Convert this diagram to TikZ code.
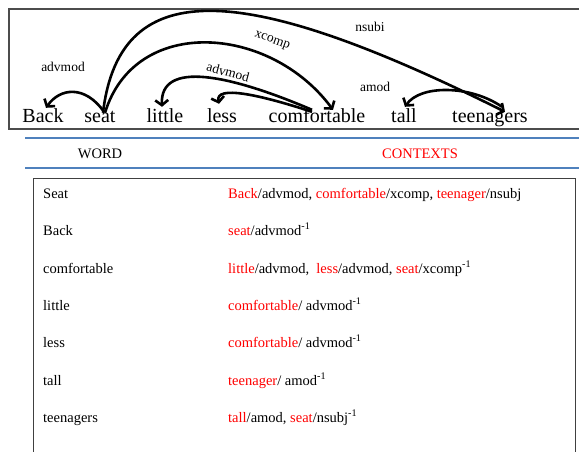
\documentclass[tikz,border=0pt]{standalone}
\usepackage{fontspec}
\setmainfont{Liberation Serif}
\usetikzlibrary{arrows.meta}
\definecolor{ctxred}{RGB}{255,0,0}
\definecolor{rulecol}{RGB}{79,129,189}
\newcommand{\cw}[1]{\textcolor{ctxred}{#1}}
\newcommand{\inv}{\textsuperscript{-1}}
\tikzset{
  word/.style={anchor=base, inner sep=0pt, text height=13pt, text depth=4pt, font=\fontsize{20}{24}\selectfont},
  rel/.style={inner sep=0pt, font=\fontsize{13.5}{16}\selectfont},
  dep/.style={line width=2.6pt, -{Straight Barb[length=5pt,width=13pt]}},
  cell/.style={anchor=base west, inner sep=0pt, font=\fontsize{14.5}{17}\selectfont},
}
\begin{document}
\begin{tikzpicture}[x=1pt,y=-1pt]
\useasboundingbox (0,0) rectangle (579,452);
\draw[black!70, line width=1.3pt] (9,9) rectangle (600,129);
\node[word] (Back) at (43,123) {Back};
\node[word] (seat) at (100,123) {seat};
\node[word] (little) at (165,123) {little};
\node[word] (less) at (222,123) {less};
\node[word] (comfortable) at (317,123) {comfortable};
\node[word] (tall) at (404,123) {tall};
\node[word] (teenagers) at (490,123) {teenagers};
\draw[dep] ([xshift=4pt,yshift=-2pt]seat.north) .. controls +(-19,-27) and +(14,-20) .. ([xshift=3pt,yshift=2pt]Back.north);
\draw[dep] ([xshift=5pt,yshift=-3pt]seat.north) .. controls +(30,-98) and +(-63,-85) .. ([xshift=16pt]comfortable.north);
\draw[dep] ([xshift=3pt,yshift=-3pt]seat.north) .. controls +(17,-143) and +(-255,-127) .. ([xshift=15pt,yshift=-2pt]teenagers.north);
\draw[dep] ([xshift=-5pt]comfortable.north) .. controls +(-82,-35) and +(-2,-47) .. ([xshift=-3pt,yshift=3pt]little.north);
\draw[dep] ([xshift=-5pt,yshift=-2pt]comfortable.north) .. controls +(-52,-17) and +(-4,-19) .. ([xshift=-3pt,yshift=6pt]less.north);
\draw[dep] ([xshift=12pt,yshift=3pt]teenagers.north) .. controls +(-32,-22) and +(15,-22) .. ([xshift=1pt,yshift=3pt]tall.north);
\node[rel] (lbBack) at (63,67) {advmod};
\node[rel, rotate=-20] (lbXcomp) at (272,41) {xcomp};
\node[rel, rotate=-15] (lbLittle) at (228,72) {advmod};
\node[rel] (lbNsubj) at (370,27) {nsubi};
\node[rel] (lbAmod) at (375,87) {amod};
\draw[rulecol, line width=1.4pt] (25,138) -- (579,138);
\draw[rulecol, line width=1.4pt] (25,168) -- (579,168);
\node[cell, anchor=base] (hWord) at (100,158) {WORD};
\node[cell, anchor=base, text=ctxred] (hCtx) at (420,158) {CONTEXTS};
\draw[black!75, line width=1pt] (33,178) rectangle (575,470);
\node[cell] (wSeat) at (43,198) {Seat};
\node[cell] (cSeat) at (228,198) {\cw{Back}/advmod, \cw{comfortable}/xcomp, \cw{teenager}/nsubj};
\node[cell] (wBack) at (43,235) {Back};
\node[cell] (cBack) at (228,235) {\cw{seat}/advmod\inv};
\node[cell] (wComf) at (43,273) {comfortable};
\node[cell] (cComf) at (228,273) {\cw{little}/advmod,\ \ \cw{less}/advmod, \cw{seat}/xcomp\inv};
\node[cell] (wLittle) at (43,310) {little};
\node[cell] (cLittle) at (228,310) {\cw{comfortable}/ advmod\inv};
\node[cell] (wLess) at (43,347) {less};
\node[cell] (cLess) at (228,347) {\cw{comfortable}/ advmod\inv};
\node[cell] (wTall) at (43,385) {tall};
\node[cell] (cTall) at (228,385) {\cw{teenager}/ amod\inv};
\node[cell] (wTeen) at (43,422) {teenagers};
\node[cell] (cTeen) at (228,422) {\cw{tall}/amod, \cw{seat}/nsubj\inv};
\end{tikzpicture}
\end{document}
